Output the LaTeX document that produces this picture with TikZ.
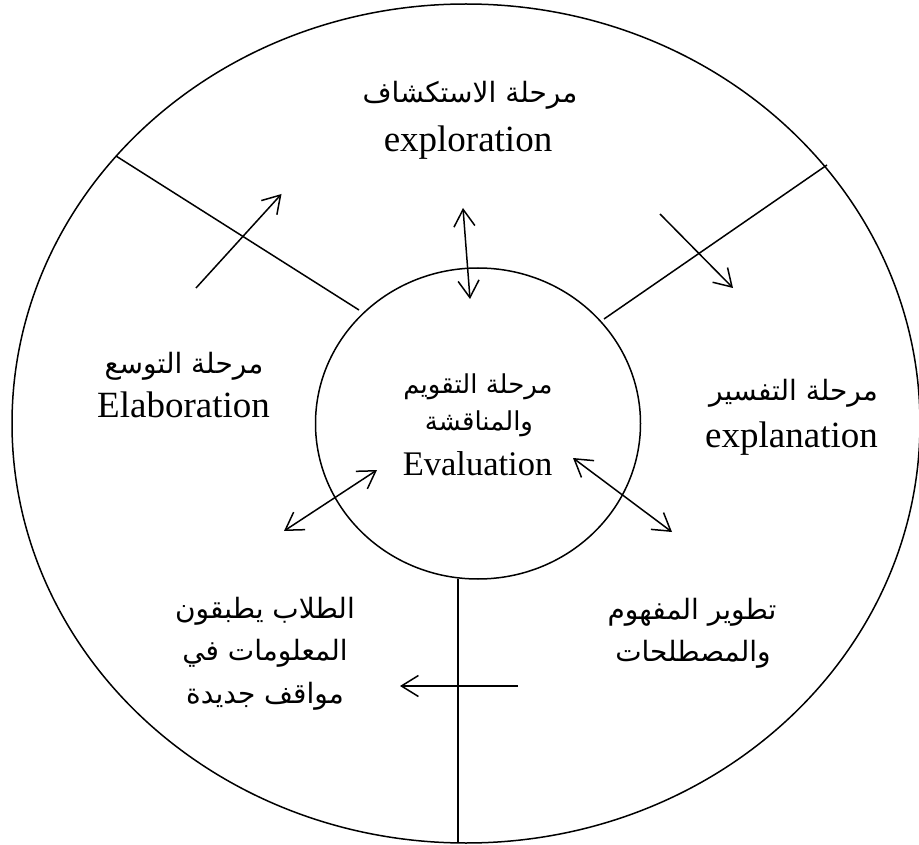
\documentclass[tikz,border=0pt]{standalone}
\usepackage{fontspec}
\setmainfont{Liberation Serif}
\newfontfamily\arabicfont[Script=Arabic]{DejaVu Sans}
\usetikzlibrary{shapes.geometric,arrows.meta}
\TeXXeTstate=1
\newcommand\myRL[1]{\beginR #1\endR}
\begin{document}
\begin{tikzpicture}[x=1pt,y=-1pt,line width=1.5pt,
  ring/.style={draw,ellipse,inner sep=0pt,outer sep=0pt},
  arbig/.style={font=\arabicfont\fontsize{28}{34}\selectfont,inner sep=0pt,anchor=base},
  arsmall/.style={font=\arabicfont\fontsize{26}{30}\selectfont,inner sep=0pt,anchor=base},
  enbig/.style={font=\fontsize{37}{44}\selectfont,inner sep=0pt,anchor=base},
  ensmall/.style={font=\fontsize{34.5}{40}\selectfont,inner sep=0pt,anchor=base},
  onearr/.style={-{Straight Barb[length=17pt,width=21pt]}},
  twoarr/.style={{Straight Barb[length=17pt,width=21pt]}-{Straight Barb[length=17pt,width=21pt]}}]
\useasboundingbox (0,0) rectangle (919,845);
% circles
\node[ring,minimum width=908pt,minimum height=839pt] (outer) at (466,423.5) {};
\node[ring,minimum width=325pt,minimum height=311pt] (inner) at (478,423.5) {};
% dividing lines
\coordinate (dl1) at (116,156);
\coordinate (dl2) at (359,310);
\coordinate (dr1) at (827,165);
\coordinate (dr2) at (604,319);
\coordinate (db1) at (458,579);
\coordinate (db2) at (458,843);
\draw (dl1) -- (dl2);
\draw (dr1) -- (dr2);
\draw (db1) -- (db2);
% texts
\node[arbig] (explAr) at (470,103) {\myRL{مرحلة الاستكشاف}};
\node[enbig] (explEn) at (468,152) {exploration};
\node[arbig] (elabAr) at (184,373) {\myRL{مرحلة التوسع}};
\node[enbig] (elabEn) at (183.5,417) {Elaboration};
\node[arbig] (explnAr) at (793.5,400) {\myRL{مرحلة التفسير}};
\node[enbig] (explnEn) at (791.5,447) {explanation};
\node[arsmall] (evalAr1) at (478,393) {\myRL{مرحلة التقويم}};
\node[arsmall] (evalAr2) at (479,430) {\myRL{والمناقشة}};
\node[ensmall] (evalEn) at (477.5,475) {Evaluation};
\node[arbig] (appl1) at (265,618) {\myRL{الطلاب يطبقون}};
\node[arbig] (appl2) at (265,660) {\myRL{المعلومات في}};
\node[arbig] (appl3) at (265,703) {\myRL{مواقف جديدة}};
\node[arbig] (dev1) at (692,619) {\myRL{تطوير المفهوم}};
\node[arbig] (dev2) at (693,661) {\myRL{والمصطلحات}};
% arrows
\coordinate (at1) at (463,208);
\coordinate (at2) at (470,299);
\coordinate (aul1) at (196,288);
\coordinate (aul2) at (281.5,194);
\coordinate (aur1) at (660,214);
\coordinate (aur2) at (733,288);
\coordinate (al1) at (284,531);
\coordinate (al2) at (377,470);
\coordinate (ar1) at (573,458);
\coordinate (ar2) at (672,532);
\coordinate (ab1) at (518,686);
\coordinate (ab2) at (400,686);
\draw[twoarr] (at1) -- (at2);
\draw[onearr] (aul1) -- (aul2);
\draw[onearr] (aur1) -- (aur2);
\draw[twoarr] (al1) -- (al2);
\draw[twoarr] (ar1) -- (ar2);
\draw[onearr] (ab1) -- (ab2);
\end{tikzpicture}
\end{document}
